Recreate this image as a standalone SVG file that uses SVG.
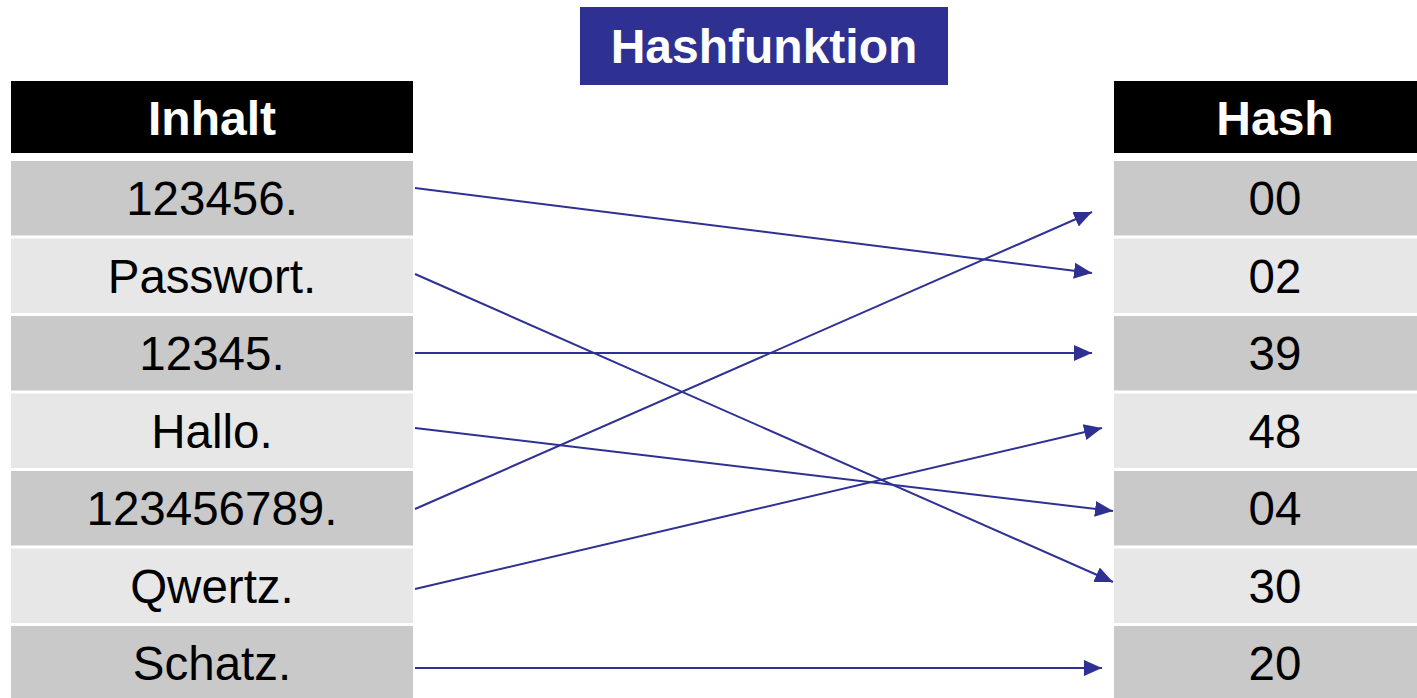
<svg xmlns="http://www.w3.org/2000/svg" width="1417" height="698" viewBox="0 0 1417 698">
<style>
.hdr{fill:#000}
.dark{fill:#C9C9C9}
.light{fill:#E7E7E7}
.t{font-family:"Liberation Sans",Arial,sans-serif;font-size:47.5px;fill:#000;text-anchor:middle}
.h{font-family:"Liberation Sans",Arial,sans-serif;font-size:48px;font-weight:bold;fill:#fff;text-anchor:middle}
.conn{stroke:#2E3192;stroke-width:2;fill:none;marker-end:url(#ah)}
</style>
<defs>
<marker id="ah" markerUnits="userSpaceOnUse" markerWidth="19" markerHeight="18" refX="18" refY="9" orient="auto">
<path d="M0,1 L18,9 L0,17 z" fill="#2E3192"/>
</marker>
</defs>
<rect width="1417" height="698" fill="#fff"/>
<g id="title">
<rect x="580" y="7" width="368" height="78" fill="#2E3192"/>
<text class="h" x="764" y="63">Hashfunktion</text>
</g>
<g id="inhalt-header">
<rect class="hdr" x="11" y="81" width="402" height="72"/>
<text class="h" x="212" y="135">Inhalt</text>
</g>
<g id="hash-header">
<rect class="hdr" x="1114" y="81" width="320" height="72"/>
<text class="h" x="1275" y="135">Hash</text>
</g>
<g id="in1"><rect class="dark" x="11" y="161" width="402" height="74.5"/><text class="t" x="212" y="215">123456.</text></g>
<g id="in2"><rect class="light" x="11" y="238.5" width="402" height="74.5"/><text class="t" x="212" y="292.5">Passwort.</text></g>
<g id="in3"><rect class="dark" x="11" y="316" width="402" height="74.5"/><text class="t" x="212" y="370">12345.</text></g>
<g id="in4"><rect class="light" x="11" y="393.5" width="402" height="74.5"/><text class="t" x="212" y="447.5">Hallo.</text></g>
<g id="in5"><rect class="dark" x="11" y="471" width="402" height="74.5"/><text class="t" x="212" y="525">123456789.</text></g>
<g id="in6"><rect class="light" x="11" y="548.5" width="402" height="74.5"/><text class="t" x="212" y="602.5">Qwertz.</text></g>
<g id="in7"><rect class="dark" x="11" y="626" width="402" height="74.5"/><text class="t" x="212" y="680">Schatz.</text></g>
<g id="h1"><rect class="dark" x="1114" y="161" width="320" height="74.5"/><text class="t" x="1275" y="215">00</text></g>
<g id="h2"><rect class="light" x="1114" y="238.5" width="320" height="74.5"/><text class="t" x="1275" y="292.5">02</text></g>
<g id="h3"><rect class="dark" x="1114" y="316" width="320" height="74.5"/><text class="t" x="1275" y="370">39</text></g>
<g id="h4"><rect class="light" x="1114" y="393.5" width="320" height="74.5"/><text class="t" x="1275" y="447.5">48</text></g>
<g id="h5"><rect class="dark" x="1114" y="471" width="320" height="74.5"/><text class="t" x="1275" y="525">04</text></g>
<g id="h6"><rect class="light" x="1114" y="548.5" width="320" height="74.5"/><text class="t" x="1275" y="602.5">30</text></g>
<g id="h7"><rect class="dark" x="1114" y="626" width="320" height="74.5"/><text class="t" x="1275" y="680">20</text></g>
<g id="connectors">
<line class="conn" x1="415" y1="188" x2="1092" y2="273"/>
<line class="conn" x1="415" y1="274" x2="1113" y2="582"/>
<line class="conn" x1="415" y1="353" x2="1092" y2="353"/>
<line class="conn" x1="415" y1="428" x2="1113" y2="511"/>
<line class="conn" x1="415" y1="509" x2="1092" y2="212"/>
<line class="conn" x1="415" y1="589" x2="1102" y2="428"/>
<line class="conn" x1="415" y1="668" x2="1102" y2="668"/>
</g>
</svg>
